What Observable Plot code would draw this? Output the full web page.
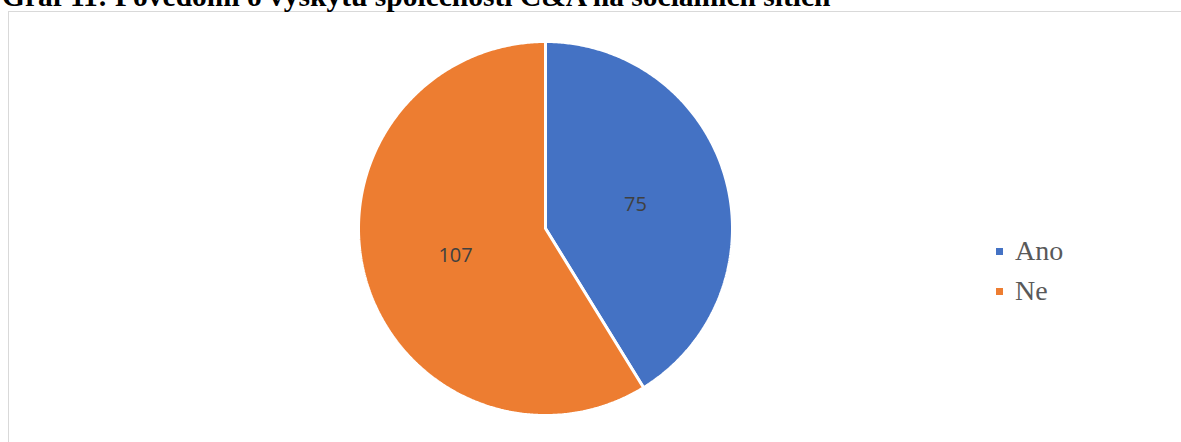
<!DOCTYPE html>
<html>
<head>
<meta charset="utf-8">
<script src="https://cdn.jsdelivr.net/npm/d3@7"></script>
<script src="https://cdn.jsdelivr.net/npm/@observablehq/plot@0.6"></script>
<style>
  html, body { margin: 0; padding: 0; background: #fff; overflow: hidden; }
  #wrap { position: relative; width: 1181px; height: 442px; }
  #title { position: absolute; left: 2px; top: -18px; font-family: "Liberation Serif", "Times New Roman", serif; font-weight: bold; font-size: 29.5px; color: #000; white-space: nowrap; line-height: 29.5px; z-index: 2; }
  #frame { position: absolute; left: 8px; top: 11px; width: 1200px; height: 460px; border: 1px solid #d9d9d9; box-sizing: border-box; }
  #chart { position: absolute; left: 0; top: 0; }
  #legend { position: absolute; left: 996px; top: 231px; font-family: "Liberation Serif", "Times New Roman", serif; font-size: 28px; color: #595959; }
  .item { display: flex; align-items: center; height: 40px; }
  .sw { width: 7px; height: 7px; margin-right: 12px; }
</style>
</head>
<body>
<div id="wrap">
  <div id="frame"></div>
  <div id="title">Graf 11: Povědomí o výskytu společnosti C&amp;A na sociálních sítích</div>
  <div id="chart"></div>
  <div id="legend"></div>
</div>
<script>
const categories = ["Ano", "Ne"];
const values = [75, 107];
const colors = ["#4472C4", "#ED7D31"];

const total = d3.sum(values);
// Build slice polygons (angles clockwise from 12 o'clock)
const polys = [];
const labels = [];
let start = 0;
categories.forEach((c, i) => {
  const sweep = values[i] / total * 2 * Math.PI;
  const end = start + sweep;
  polys.push({cat: c, x: 0, y: 0});
  const n = Math.max(2, Math.ceil(sweep / (Math.PI / 360)));
  for (let k = 0; k <= n; k++) {
    const a = start + sweep * k / n;
    polys.push({cat: c, x: Math.sin(a), y: Math.cos(a)});
  }
  polys.push({cat: c, x: 0, y: 0});
  const mid = (start + end) / 2;
  labels.push({cat: c, value: values[i], x: 0.5 * Math.sin(mid), y: 0.5 * Math.cos(mid)});
  start = end;
});

const chart = Plot.plot({
  width: 1181,
  height: 442,
  margin: 0,
  x: {domain: [-1, 1], range: [358, 732], axis: null},
  y: {domain: [-1, 1], range: [415, 41], axis: null},
  color: {domain: categories, range: colors},
  style: {background: "transparent"},
  marks: [
    Plot.line(polys, {x: "x", y: "y", z: "cat", fill: "cat", stroke: "#fff", strokeWidth: 3, strokeLinejoin: "miter", curve: "linear"}),
    Plot.text(labels, {x: "x", y: "y", dy: 2, text: d => String(d.value), fill: "#404040", fontSize: 20, fontFamily: "Open Sans, Liberation Sans, sans-serif"})
  ]
});
document.getElementById("chart").appendChild(chart);

const legend = document.getElementById("legend");
categories.forEach((c, i) => {
  const it = document.createElement("div");
  it.className = "item";
  const sw = document.createElement("span");
  sw.className = "sw";
  sw.style.background = colors[i];
  const t = document.createElement("span");
  t.textContent = c;
  it.appendChild(sw); it.appendChild(t);
  legend.appendChild(it);
});
</script>
</body>
</html>
